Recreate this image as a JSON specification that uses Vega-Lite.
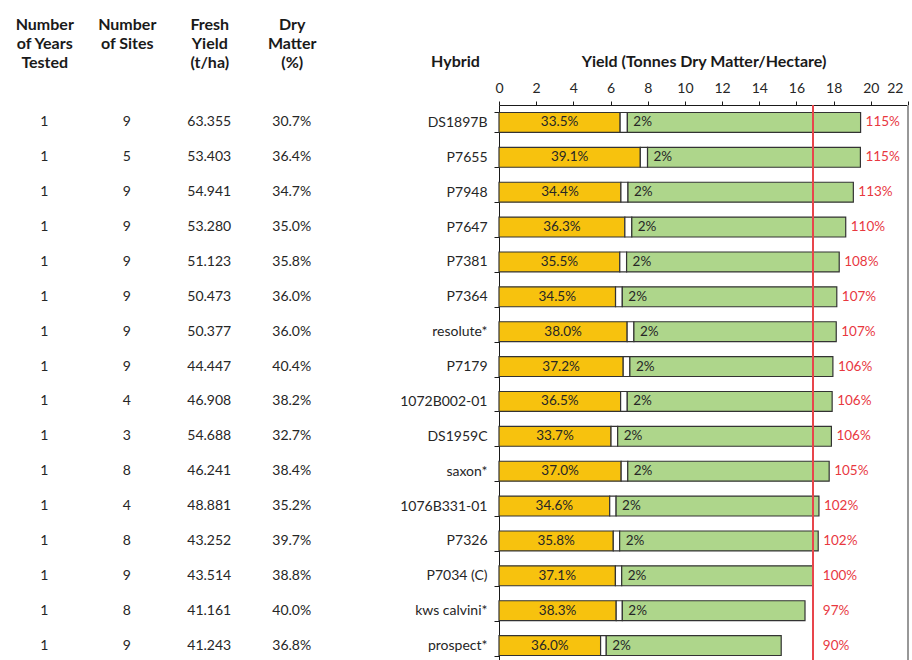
{
  "$schema": "https://vega.github.io/schema/vega-lite/v6.json",
  "padding": {"left": 3, "top": 16, "right": 0, "bottom": 0},
  "background": "white",
  "config": {"font": "Lato", "view": {"stroke": null}, "axisQuantitative": {"labelOverlap": false, "labelFlush": false}},
  "data": {"values": [
    {"hybrid": "DS1897B", "years": 1, "sites": 9, "fresh": 63.355, "dm": 0.307, "total": 19.45, "starch": 0.335, "yel": 6.516, "gapEnd": 6.905, "rel": 1.15},
    {"hybrid": "P7655", "years": 1, "sites": 5, "fresh": 53.403, "dm": 0.364, "total": 19.44, "starch": 0.391, "yel": 7.601, "gapEnd": 7.990, "rel": 1.15},
    {"hybrid": "P7948", "years": 1, "sites": 9, "fresh": 54.941, "dm": 0.347, "total": 19.06, "starch": 0.344, "yel": 6.557, "gapEnd": 6.938, "rel": 1.13},
    {"hybrid": "P7647", "years": 1, "sites": 9, "fresh": 53.280, "dm": 0.350, "total": 18.65, "starch": 0.363, "yel": 6.770, "gapEnd": 7.143, "rel": 1.10},
    {"hybrid": "P7381", "years": 1, "sites": 9, "fresh": 51.123, "dm": 0.358, "total": 18.30, "starch": 0.355, "yel": 6.497, "gapEnd": 6.863, "rel": 1.08},
    {"hybrid": "P7364", "years": 1, "sites": 9, "fresh": 50.473, "dm": 0.360, "total": 18.17, "starch": 0.345, "yel": 6.269, "gapEnd": 6.632, "rel": 1.07},
    {"hybrid": "resolute*", "years": 1, "sites": 9, "fresh": 50.377, "dm": 0.360, "total": 18.14, "starch": 0.380, "yel": 6.893, "gapEnd": 7.256, "rel": 1.07},
    {"hybrid": "P7179", "years": 1, "sites": 9, "fresh": 44.447, "dm": 0.404, "total": 17.96, "starch": 0.372, "yel": 6.681, "gapEnd": 7.040, "rel": 1.06},
    {"hybrid": "1072B002-01", "years": 1, "sites": 4, "fresh": 46.908, "dm": 0.382, "total": 17.92, "starch": 0.365, "yel": 6.541, "gapEnd": 6.899, "rel": 1.06},
    {"hybrid": "DS1959C", "years": 1, "sites": 3, "fresh": 54.688, "dm": 0.327, "total": 17.88, "starch": 0.337, "yel": 6.026, "gapEnd": 6.383, "rel": 1.06},
    {"hybrid": "saxon*", "years": 1, "sites": 8, "fresh": 46.241, "dm": 0.384, "total": 17.76, "starch": 0.370, "yel": 6.571, "gapEnd": 6.926, "rel": 1.05},
    {"hybrid": "1076B331-01", "years": 1, "sites": 4, "fresh": 48.881, "dm": 0.352, "total": 17.21, "starch": 0.346, "yel": 5.955, "gapEnd": 6.299, "rel": 1.02},
    {"hybrid": "P7326", "years": 1, "sites": 8, "fresh": 43.252, "dm": 0.397, "total": 17.17, "starch": 0.358, "yel": 6.147, "gapEnd": 6.490, "rel": 1.02},
    {"hybrid": "P7034 (C)", "years": 1, "sites": 9, "fresh": 43.514, "dm": 0.388, "total": 16.88, "starch": 0.371, "yel": 6.262, "gapEnd": 6.600, "rel": 1.00},
    {"hybrid": "kws calvini*", "years": 1, "sites": 8, "fresh": 41.161, "dm": 0.400, "total": 16.46, "starch": 0.383, "yel": 6.304, "gapEnd": 6.634, "rel": 0.97},
    {"hybrid": "prospect*", "years": 1, "sites": 9, "fresh": 41.243, "dm": 0.368, "total": 15.18, "starch": 0.360, "yel": 5.465, "gapEnd": 5.769, "rel": 0.90}
  ]},
  "bounds": "flush",
  "spacing": 166,
  "hconcat": [
    {
      "width": 330,
      "height": 558,
      "encoding": {
        "y": {"field": "hybrid", "type": "nominal", "sort": null, "axis": null}
      },
      "layer": [
        {
          "mark": {"type": "text", "fontSize": 14, "color": "#262626"},
          "encoding": {
            "x": {"datum": "Number|of Years|Tested", "type": "nominal",
              "scale": {"domain": ["Number|of Years|Tested", "Number|of Sites", "Fresh|Yield|(t/ha)", "Dry|Matter|(%)"]},
              "axis": {"orient": "top", "title": null, "domain": false, "ticks": false, "tickSize": 0,
                "labelExpr": "split(datum.label, '|')", "labelFontWeight": "bold", "labelFontSize": 16,
                "labelLineHeight": 19, "labelPadding": 73, "labelColor": "#1a1a1a", "labelAngle": 0, "labelBaseline": "bottom"}},
            "text": {"field": "years"}
          }
        },
        {
          "mark": {"type": "text", "fontSize": 14, "color": "#262626"},
          "encoding": {"x": {"datum": "Number|of Sites", "type": "nominal"}, "text": {"field": "sites"}}
        },
        {
          "mark": {"type": "text", "fontSize": 14, "color": "#262626"},
          "encoding": {"x": {"datum": "Fresh|Yield|(t/ha)", "type": "nominal"}, "text": {"field": "fresh", "format": ".3f"}}
        },
        {
          "mark": {"type": "text", "fontSize": 14, "color": "#262626"},
          "encoding": {"x": {"datum": "Dry|Matter|(%)", "type": "nominal"}, "text": {"field": "dm", "format": ".1%"}}
        }
      ]
    },
    {
      "width": 409,
      "height": 558,
      "layer": [
        {
          "mark": {"type": "bar", "color": "#F7C20E", "stroke": "#333333", "strokeWidth": 1.2},
          "encoding": {
            "y": {"field": "hybrid", "type": "nominal", "sort": null,
              "scale": {"paddingInner": 0.43, "paddingOuter": 0.215},
              "axis": {"title": "Hybrid", "titleAngle": 0, "titleX": -44, "titleY": -44, "titleAlign": "center", "titleBaseline": "middle",
                "titleFontWeight": "bold", "titleFontSize": 16, "titleColor": "#1a1a1a",
                "labelFontSize": 14, "labelColor": "#262626", "labelPadding": 7, "tickSize": 5, "tickBand": "extent",
                "domainColor": "#1a1a1a", "tickColor": "#1a1a1a"}},
            "x": {"field": "yel", "type": "quantitative", "scale": {"domain": [0, 22], "nice": false},
              "axis": {"orient": "top", "values": [0, 2, 4, 6, 8, 10, 12, 14, 16, 18, 20, 22], "tickCount": 12, "grid": false,
                "title": "Yield (Tonnes Dry Matter/Hectare)", "titleFontSize": 16, "titleFontWeight": "bold", "titleColor": "#1a1a1a", "titlePadding": 12,
                "labelFontSize": 14, "labelColor": "#262626", "labelPadding": 6, "labelFlush": false, "labelOverlap": false,
                "labelAlign": {"condition": {"test": "datum.value == 22", "value": "right"}, "value": "center"},
                "labelOffset": {"condition": {"test": "datum.value == 22", "value": -5}, "value": 0},
                "tickSize": 4, "domainColor": "#1a1a1a", "tickColor": "#1a1a1a"}}
          }
        },
        {
          "mark": {"type": "bar", "color": "#ffffff", "stroke": "#333333", "strokeWidth": 1.2},
          "encoding": {"y": {"field": "hybrid", "type": "nominal", "sort": null}, "x": {"field": "yel", "type": "quantitative"}, "x2": {"field": "gapEnd"}}
        },
        {
          "mark": {"type": "bar", "color": "#AED68B", "stroke": "#333333", "strokeWidth": 1.2},
          "encoding": {"y": {"field": "hybrid", "type": "nominal", "sort": null}, "x": {"field": "gapEnd", "type": "quantitative"}, "x2": {"field": "total"}}
        },
        {
          "mark": {"type": "rule", "color": "#E8464C", "strokeWidth": 1.5},
          "encoding": {"x": {"datum": 16.88, "type": "quantitative"}}
        },
        {
          "mark": {"type": "rule", "color": "#999999", "strokeWidth": 1.5},
          "encoding": {"x": {"datum": 22, "type": "quantitative"}}
        },
        {
          "transform": [{"calculate": "datum.yel / 2", "as": "mid"}],
          "mark": {"type": "text", "fontSize": 13.5, "color": "#262626"},
          "encoding": {"y": {"field": "hybrid", "type": "nominal", "sort": null}, "x": {"field": "mid", "type": "quantitative"}, "text": {"field": "starch", "format": ".1%"}}
        },
        {
          "mark": {"type": "text", "fontSize": 13.5, "color": "#262626", "align": "left", "dx": 6},
          "encoding": {"y": {"field": "hybrid", "type": "nominal", "sort": null}, "x": {"field": "gapEnd", "type": "quantitative"}, "text": {"value": "2%"}}
        },
        {
          "transform": [{"calculate": "max(datum.total, 17.15)", "as": "lx"}],
          "mark": {"type": "text", "fontSize": 13.5, "color": "#E8383F", "align": "left", "dx": 5},
          "encoding": {"y": {"field": "hybrid", "type": "nominal", "sort": null}, "x": {"field": "lx", "type": "quantitative"}, "text": {"field": "rel", "format": ".0%"}}
        }
      ]
    }
  ]
}
